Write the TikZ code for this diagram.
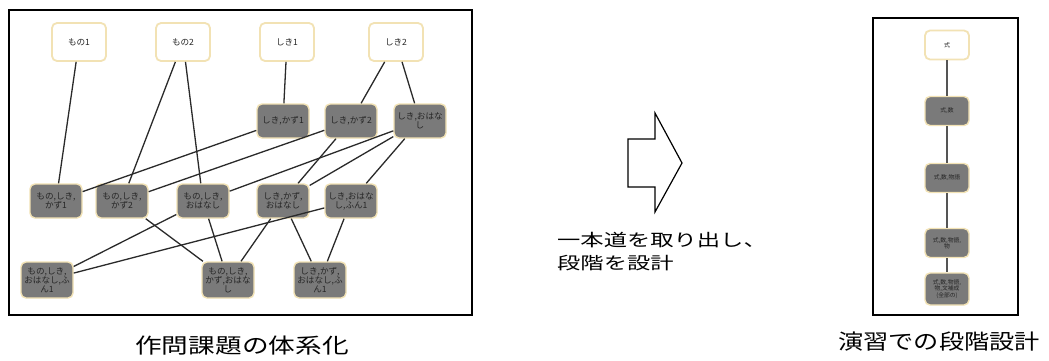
\documentclass[tikz,border=0pt]{standalone}
\usepackage{fontspec}
\usepackage{graphicx}
\setmainfont{Noto Sans CJK JP}
\begin{document}
\begin{tikzpicture}[x=1pt,y=-1pt,
  topnode/.style={rectangle,rounded corners=5pt,fill=white,draw=glow,line width=1.8pt,
    minimum width=54pt,minimum height=38pt,inner sep=1pt,font=\fontsize{8.6}{9}\selectfont,text=txt},
  graynode/.style={rectangle,rounded corners=5pt,fill=nodegray,draw=glow,line width=1.4pt,
    minimum width=52pt,minimum height=34pt,inner sep=1pt,align=center,
    font=\fontsize{8.6}{8.8}\selectfont,text=txt},
  rtop/.style={topnode,minimum width=44pt,minimum height=29pt,font=\fontsize{6}{6.6}\selectfont},
  rgray/.style={graynode,minimum width=44pt,minimum height=29pt,font=\fontsize{5.8}{6.2}\selectfont},
  edge/.style={draw=edgec,line width=1.3pt},
  frame/.style={draw=black,line width=1.8pt}]
\definecolor{glow}{HTML}{F2E2B4}
\definecolor{nodegray}{HTML}{7A7A7A}
\definecolor{txt}{HTML}{262626}
\definecolor{edgec}{HTML}{2A2A2A}
\useasboundingbox (0,0) rectangle (1049,360);
\fill[white] (0,0) rectangle (1049,360);
% left frame
\draw[frame] (9,10) rectangle (472,315);
% top row
\node[topnode] (mono1) at (79,42) {もの1};
\node[topnode] (mono2) at (183,42) {もの2};
\node[topnode] (shiki1) at (287,42) {しき1};
\node[topnode] (shiki2) at (396,42) {しき2};
% row 2
\node[graynode] (sk1) at (283,121) {しき,かず1};
\node[graynode] (sk2) at (351,121) {しき,かず2};
\node[graynode] (so) at (420,121) {しき,おはな\\し};
% row 3
\node[graynode] (msk1) at (56,201) {もの,しき,\\かず1};
\node[graynode] (msk2) at (122,201) {もの,しき,\\かず2};
\node[graynode] (mso) at (203,201) {もの,しき,\\おはなし};
\node[graynode] (sko) at (283,201) {しき,かず,\\おはなし};
\node[graynode] (sof) at (351,201) {しき,おはな\\し,ふん1};
% row 4
\node[graynode,minimum height=36pt] (msof) at (47,280) {もの,しき,\\おはなし,ふ\\ん1};
\node[graynode,minimum height=36pt] (msko) at (228,280) {もの,しき,\\かず,おはな\\し};
\node[graynode,minimum height=36pt] (skof) at (320,280) {しき,かず,\\おはなし,ふ\\ん1};
% edges
\draw[edge] (mono1) -- (msk1);
\draw[edge] (mono2) -- (msk2);
\draw[edge] (mono2) -- (mso);
\draw[edge] (shiki1) -- (sk1);
\draw[edge] (shiki2) -- (sk2);
\draw[edge] (shiki2) -- (so);
\draw[edge] (sk1) -- (msk1);
\draw[edge] (sk2) -- (msk2);
\draw[edge] (so) -- (mso);
\draw[edge] (sk2) -- (sko);
\draw[edge] (so) -- (sko);
\draw[edge] (so) -- (sof);
\draw[edge] (mso) -- (msof);
\draw[edge] (sof) -- (msof);
\draw[edge] (msk2) -- (msko);
\draw[edge] (mso) -- (msko);
\draw[edge] (sko) -- (msko);
\draw[edge] (sko) -- (skof);
\draw[edge] (sof) -- (skof);
% arrow
\draw[line width=1.2pt,line join=miter] (628,139) -- (655,139) -- (655,113) -- (682,163) -- (655,212) -- (655,187) -- (628,187) -- cycle;
\node[anchor=west,inner sep=0pt,font=\fontsize{17}{20}\selectfont] (note1) at (557,240) {\scalebox{1.37}[1]{一本道を取り出し、}};
\node[anchor=west,inner sep=0pt,font=\fontsize{17}{20}\selectfont] (note2) at (557,263) {\scalebox{1.37}[1]{段階を設計}};
% right frame
\draw[frame] (873,18) rectangle (1018,315);
\node[rtop] (r1) at (947,45) {式};
\node[rgray] (r2) at (947,111) {式,数};
\node[rgray] (r3) at (947,178) {式,数,物語};
\node[rgray] (r4) at (947,243) {式,数,物語,\\物};
\node[rgray,minimum height=32pt] (r5) at (947,289) {式,数,物語,\\物,文補成\\(全部の)};
\draw[edge,draw=edgec!80] (r1) -- (r2);
\draw[edge,draw=edgec!80] (r2) -- (r3);
\draw[edge,draw=edgec!80] (r3) -- (r4);
\draw[edge,draw=edgec!80] (r4) -- (r5);
% captions
\node[font=\fontsize{21}{24}\selectfont,inner sep=0pt] (capL) at (242,346) {\scalebox{1.27}[1]{作問課題の体系化}};
\node[font=\fontsize{21}{24}\selectfont,inner sep=0pt] (capR) at (939,342) {\scalebox{1.2}[1]{演習での段階設計}};
\end{tikzpicture}
\end{document}
